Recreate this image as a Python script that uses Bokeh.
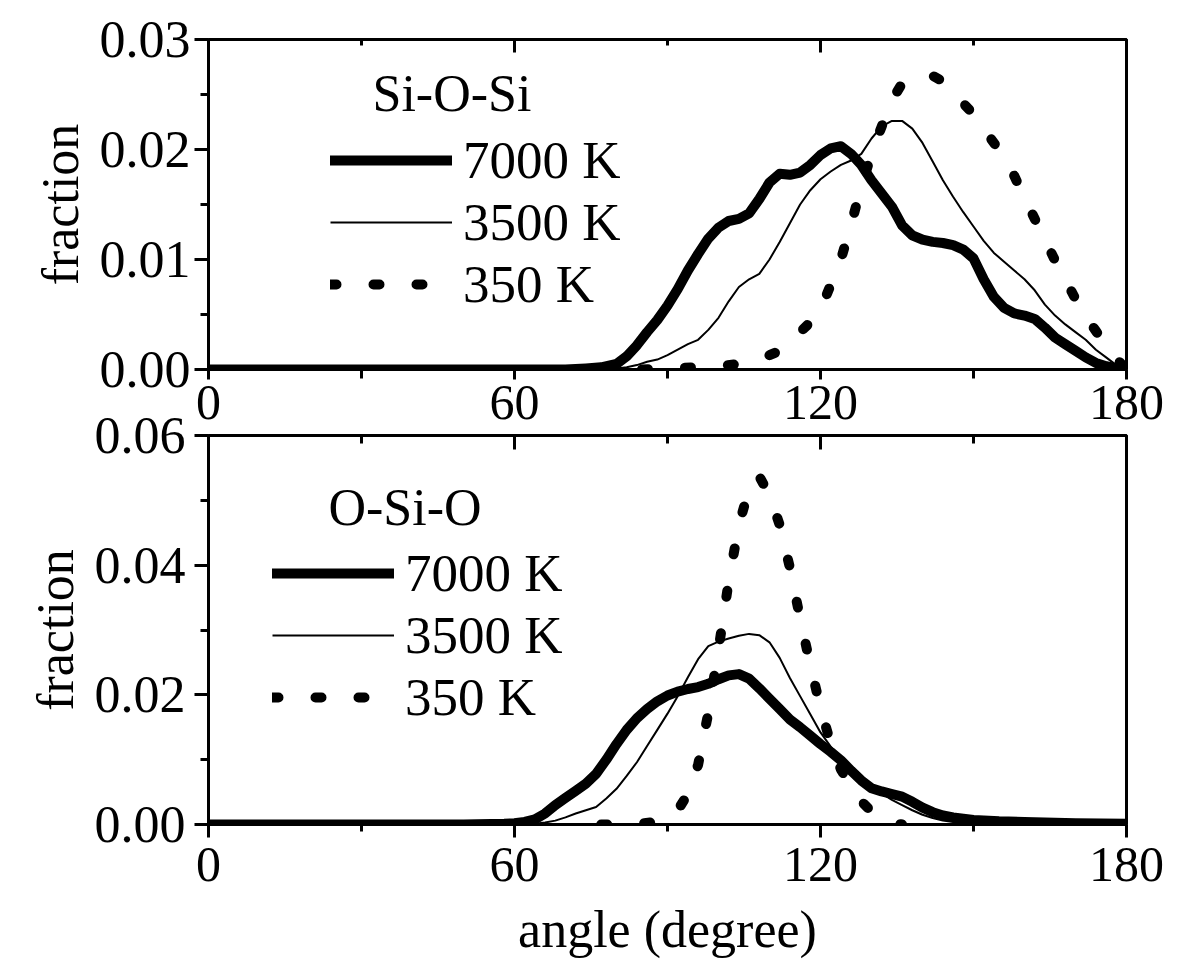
from bokeh.plotting import figure
from bokeh.models import (FixedTicker, LinearAxis, Legend, LegendItem, Label,
                          Range1d, PrintfTickFormatter)
from bokeh.layouts import column
from bokeh.embed import file_html
from bokeh.resources import INLINE

FONT = "Liberation Serif"

# ---------------- data: Si-O-Si (top panel) ----------------
sios_angle_7000 = [0, 70, 74, 77, 80, 82, 84, 86, 88, 90, 92, 94, 96, 98, 100, 102, 104, 106, 108, 110,
                   112, 114, 116, 118, 120, 122, 124, 126, 128, 130, 132, 134, 136, 138, 140, 142, 144,
                   146, 148, 150, 152, 154, 156, 158, 160, 162, 164, 166, 168, 170, 172, 174, 176, 178, 180]
sios_7000 = [0, 0, 0.0001, 0.0002, 0.0005, 0.0012, 0.0022, 0.0034, 0.0045, 0.0058, 0.0073, 0.0090,
             0.0105, 0.0119, 0.0129, 0.0135, 0.0137, 0.0142, 0.0155, 0.0170, 0.0178, 0.0177, 0.0179,
             0.0186, 0.0195, 0.0201, 0.0203, 0.0196, 0.0186, 0.0172, 0.0160, 0.0148, 0.0131, 0.0122,
             0.0118, 0.0116, 0.0115, 0.0113, 0.0109, 0.0101, 0.0082, 0.0066, 0.0056, 0.0051, 0.0049,
             0.0046, 0.0038, 0.0029, 0.0023, 0.0017, 0.0011, 0.0006, 0.0003, 0.0001, 0]

sios_angle_3500 = [0, 75, 80, 82, 84, 86, 88, 90, 92, 94, 96, 98, 100, 102, 104, 106, 108, 110, 112, 114,
                   116, 118, 120, 122, 124, 126, 128, 130, 132, 134, 136, 138, 140, 142, 144, 146, 148,
                   150, 152, 154, 156, 158, 160, 162, 164, 166, 168, 170, 172, 174, 176, 178, 180]
sios_3500 = [0, 0, 0.0001, 0.0002, 0.0004, 0.0007, 0.0009, 0.0013, 0.0018, 0.0023, 0.0027, 0.0036,
             0.0047, 0.0062, 0.0075, 0.0082, 0.0087, 0.0100, 0.0116, 0.0133, 0.0150, 0.0163, 0.0173,
             0.0180, 0.0186, 0.0190, 0.0196, 0.0210, 0.0221, 0.0226, 0.0226, 0.0219, 0.0206, 0.0189,
             0.0172, 0.0157, 0.0143, 0.0130, 0.0117, 0.0106, 0.0098, 0.0090, 0.0082, 0.0072, 0.0059,
             0.0049, 0.0041, 0.0034, 0.0027, 0.0018, 0.0011, 0.0004, 0]

sios_angle_350 = [85, 90, 95, 100, 104, 108, 110, 112, 114, 116, 118, 120, 122, 124, 126, 128, 130, 132,
                  134, 136, 138, 140, 142, 144, 146, 148, 150, 152, 154, 156, 158, 160, 162, 164, 166,
                  168, 170, 172, 174, 176, 178, 180]
sios_350 = [0, 0.0001, 0.0002, 0.0003, 0.0005, 0.0009, 0.0013, 0.0017, 0.0025, 0.0034, 0.0043, 0.0054,
            0.0077, 0.0100, 0.0132, 0.0166, 0.0196, 0.0221, 0.0245, 0.0260, 0.0265, 0.0267, 0.0267,
            0.0262, 0.0251, 0.0242, 0.0232, 0.0219, 0.0206, 0.0193, 0.0176, 0.0156, 0.0137, 0.0118,
            0.0099, 0.0082, 0.0064, 0.0048, 0.0035, 0.0022, 0.0010, 0]

# ---------------- data: O-Si-O (bottom panel) ----------------
osio_angle_7000 = [0, 50, 58, 60, 62, 64, 66, 68, 70, 72, 74, 76, 78, 80, 82, 84, 86, 88, 90, 92, 94, 96,
                   98, 100, 102, 104, 106, 108, 110, 112, 114, 116, 118, 120, 122, 124, 126, 128, 130,
                   132, 134, 136, 138, 140, 142, 144, 146, 148, 150, 155, 160, 170, 180]
osio_7000 = [0, 0, 0.0001, 0.0002, 0.0004, 0.0008, 0.0017, 0.0030, 0.0041, 0.0052, 0.0063, 0.0078,
             0.0100, 0.0124, 0.0146, 0.0164, 0.0178, 0.0190, 0.0199, 0.0205, 0.0209, 0.0212, 0.0217,
             0.0224, 0.0230, 0.0232, 0.0225, 0.0210, 0.0194, 0.0178, 0.0162, 0.0150, 0.0137, 0.0124,
             0.0112, 0.0099, 0.0083, 0.0068, 0.0056, 0.0051, 0.0047, 0.0043, 0.0035, 0.0026, 0.0019,
             0.0014, 0.0011, 0.0009, 0.0007, 0.0005, 0.0004, 0.0002, 0.0001]

osio_angle_3500 = [0, 60, 64, 66, 68, 70, 72, 74, 76, 78, 80, 82, 84, 86, 88, 90, 92, 94, 96, 98, 100,
                   102, 104, 106, 108, 110, 112, 114, 116, 118, 120, 122, 124, 126, 128, 130, 132, 134,
                   136, 138, 140, 142, 144, 146, 150, 160, 180]
osio_3500 = [0, 0, 0.0001, 0.0003, 0.0006, 0.0011, 0.0017, 0.0022, 0.0027, 0.0040, 0.0055, 0.0075,
             0.0096, 0.0121, 0.0146, 0.0171, 0.0198, 0.0227, 0.0255, 0.0275, 0.0282, 0.0287, 0.0291,
             0.0294, 0.0292, 0.0281, 0.0257, 0.0226, 0.0198, 0.0170, 0.0142, 0.0120, 0.0102, 0.0088,
             0.0073, 0.0059, 0.0048, 0.0038, 0.0030, 0.0022, 0.0015, 0.0010, 0.0006, 0.0004, 0.0002,
             0.0001, 0]

osio_angle_350 = [77, 80, 84, 88, 90, 92, 94, 96, 98, 100, 102, 104, 106, 108, 110, 112, 114, 116, 118,
                  120, 122, 124, 126, 128, 130, 132, 134, 136]
osio_350 = [0, 0, 0.0001, 0.0004, 0.0008, 0.0022, 0.0047, 0.0092, 0.0172, 0.0270, 0.0375, 0.0462,
            0.0518, 0.0537, 0.0508, 0.0462, 0.0396, 0.0318, 0.0246, 0.0180, 0.0125, 0.0085, 0.0058,
            0.0036, 0.0020, 0.0009, 0.0003, 0]

labels = ["7000 K", "3500 K", "350 K"]
x_ticks = [0, 60, 120, 180]
x_minor = [30, 90, 150]
top_yticks = [0, 0.01, 0.02, 0.03]
top_yminor = [0.005, 0.015, 0.025]
bot_yticks = [0, 0.02, 0.04, 0.06]
bot_yminor = [0.01, 0.03, 0.05]


def make_panel(height, border_left, border_top, border_bottom, ymax, yticks, yminor,
               xs, ys, title, title_xy, legend_xy, x_out, x_min_out, top_in, top_min_in,
               x_standoff, y_standoff, xlabel=None, margin=None):
    kw = {}
    if margin is not None:
        kw["margin"] = margin
    p = figure(width=1188, height=height, x_range=Range1d(0, 180), y_range=Range1d(0, ymax),
               output_backend="svg", toolbar_location=None,
               min_border_left=border_left, min_border_right=62,
               min_border_top=border_top, min_border_bottom=border_bottom,
               x_axis_location=None, y_axis_location=None, **kw)
    p.xgrid.visible = False
    p.ygrid.visible = False
    p.border_fill_color = None
    p.background_fill_color = None
    p.outline_line_color = "black"
    p.outline_line_width = 3

    xt = FixedTicker(ticks=x_ticks, minor_ticks=x_minor)
    yt = FixedTicker(ticks=yticks, minor_ticks=yminor)

    xb = LinearAxis(ticker=xt)
    xb.major_tick_out = x_out
    xb.major_tick_in = 0
    xb.minor_tick_out = x_min_out
    xb.minor_tick_in = 0
    xb.major_label_text_font = FONT
    xb.major_label_text_font_size = "50px"
    xb.major_label_text_color = "black"
    xb.major_label_standoff = x_standoff
    if xlabel:
        xb.axis_label = xlabel
        xb.axis_label_text_font = FONT
        xb.axis_label_text_font_size = "52px"
        xb.axis_label_text_font_style = "normal"
        xb.axis_label_text_color = "black"
        xb.axis_label_standoff = 17
    p.add_layout(xb, "below")

    xa = LinearAxis(ticker=xt)
    xa.major_tick_out = 0
    xa.major_tick_in = top_in
    xa.minor_tick_out = 0
    xa.minor_tick_in = top_min_in
    xa.major_label_text_color = None
    xa.major_label_standoff = 0
    xa.axis_label = None
    p.add_layout(xa, "above")

    yl = LinearAxis(ticker=yt, formatter=PrintfTickFormatter(format="%.2f"))
    yl.major_tick_out = 14
    yl.major_tick_in = 0
    yl.minor_tick_out = 8
    yl.minor_tick_in = 0
    yl.major_label_text_font = FONT
    yl.major_label_text_font_size = "52px"
    yl.major_label_text_color = "black"
    yl.major_label_standoff = y_standoff
    yl.axis_label = "fraction"
    yl.axis_label_text_font = FONT
    yl.axis_label_text_font_size = "52px"
    yl.axis_label_text_font_style = "normal"
    yl.axis_label_text_color = "black"
    yl.axis_label_standoff = 8
    p.add_layout(yl, "left")

    for ax in (xb, xa, yl):
        ax.axis_line_width = 3
        ax.axis_line_color = "black"
        ax.major_tick_line_width = 3
        ax.minor_tick_line_width = 3

    r1 = p.line(xs[0], ys[0], line_color="black", line_width=10, line_join="round", line_cap="round")
    r2 = p.line(xs[1], ys[1], line_color="black", line_width=2, line_join="round")
    r3 = p.line(xs[2], ys[2], line_color="black", line_width=10, line_dash="6 37",
                line_cap="round", line_join="round")

    leg = Legend(items=[LegendItem(label=labels[0], renderers=[r1]),
                        LegendItem(label=labels[1], renderers=[r2]),
                        LegendItem(label=labels[2], renderers=[r3])],
                 location=legend_xy, glyph_width=122, glyph_height=62, label_height=62,
                 label_standoff=11, spacing=0, padding=0, margin=0,
                 border_line_color=None, background_fill_alpha=0,
                 label_text_font=FONT, label_text_font_size="53px", label_text_color="black")
    p.add_layout(leg)

    p.add_layout(Label(x=title_xy[0], y=title_xy[1], x_units="screen", y_units="screen",
                       text=title, text_font=FONT, text_font_size="52px", text_color="black",
                       text_baseline="alphabetic", text_align="left"))
    return p


top = make_panel(458, 208, 39, 89, 0.03, top_yticks, top_yminor,
                 [sios_angle_7000, sios_angle_3500, sios_angle_350],
                 [sios_7000, sios_3500, sios_350],
                 "Si-O-Si", (164, 276), (122, 54), 10, 9, 13, 6, 6, 4)

bottom = make_panel(572, 207, 37, 146, 0.06, bot_yticks, bot_yminor,
                    [osio_angle_7000, osio_angle_3500, osio_angle_350],
                    [osio_7000, osio_3500, osio_350],
                    "O-Si-O", (120, 317), (64, 96), 13, 7, 14, 8, 10, 9,
                    xlabel="angle (degree)", margin=(-60, 0, 0, 0))

layout = column(top, bottom, spacing=0)
open("out.html", "w").write(file_html(layout, INLINE))
